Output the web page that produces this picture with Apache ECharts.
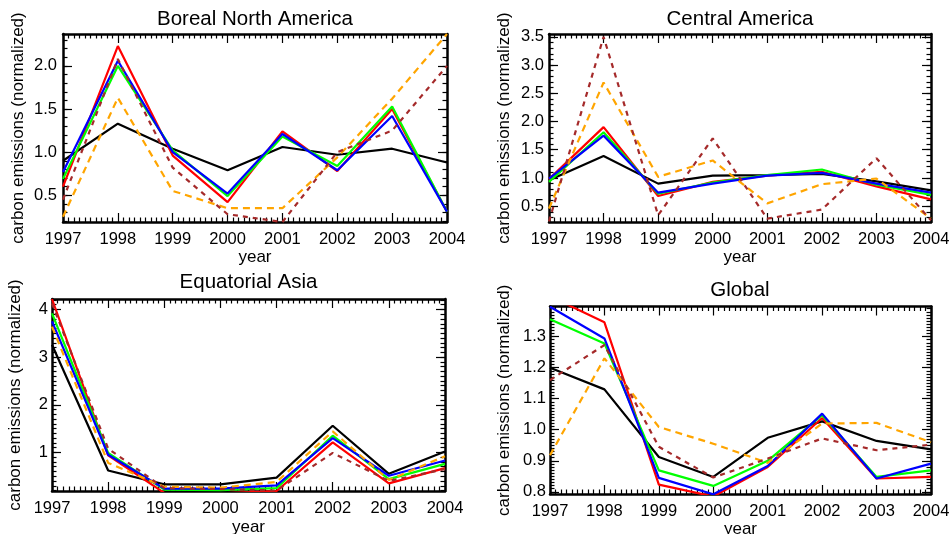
<!DOCTYPE html>
<html>
<head>
<meta charset="utf-8">
<script src="https://cdn.jsdelivr.net/npm/echarts@6/dist/echarts.min.js"></script>
<style>
  html, body { margin: 0; padding: 0; background: #ffffff; }
  #chart { width: 952px; height: 534px; }
</style>
</head>
<body>
<div id="chart"></div>
<script>
// Years on the horizontal axis
const years = [1997, 1998, 1999, 2000, 2001, 2002, 2003, 2004];

// Boreal North America
const borealBlack  = [0.90, 1.33, 1.04, 0.79, 1.06, 0.97, 1.04, 0.88];
const borealRed    = [0.60, 2.23, 0.96, 0.42, 1.24, 0.78, 1.50, 0.31];
const borealGreen  = [0.69, 2.00, 1.02, 0.49, 1.18, 0.84, 1.53, 0.31];
const borealBlue   = [0.77, 2.06, 1.00, 0.52, 1.21, 0.79, 1.42, 0.31];
const borealOrange = [0.25, 1.63, 0.55, 0.35, 0.35, 0.94, 1.62, 2.37];
const borealBrown  = [0.45, 2.08, 0.82, 0.28, 0.19, 1.00, 1.25, 2.00];
const borealTicks  = [0.5, 1.0, 1.5, 2.0];

// Central America
const centralBlack  = [0.96, 1.39, 0.90, 1.04, 1.05, 1.07, 0.94, 0.78];
const centralRed    = [0.98, 1.90, 0.68, 0.93, 1.04, 1.11, 0.85, 0.62];
const centralGreen  = [0.93, 1.81, 0.72, 0.92, 1.05, 1.15, 0.88, 0.70];
const centralBlue   = [0.99, 1.75, 0.74, 0.90, 1.04, 1.09, 0.90, 0.74];
const centralOrange = [0.46, 2.69, 1.02, 1.31, 0.55, 0.89, 0.99, 0.28];
const centralBrown  = [0.23, 3.50, 0.34, 1.70, 0.28, 0.44, 1.35, 0.25];
const centralTicks  = [0.5, 1.0, 1.5, 2.0, 2.5, 3.0, 3.5];

// Equatorial Asia
const asiaBlack  = [3.26, 0.62, 0.33, 0.33, 0.47, 1.56, 0.55, 1.02];
const asiaRed    = [4.22, 0.94, 0.15, 0.14, 0.19, 1.21, 0.35, 0.67];
const asiaGreen  = [3.92, 0.99, 0.22, 0.21, 0.25, 1.35, 0.44, 0.76];
const asiaBlue   = [3.75, 0.95, 0.24, 0.24, 0.31, 1.30, 0.51, 0.83];
const asiaOrange = [3.64, 0.78, 0.28, 0.26, 0.38, 1.44, 0.42, 0.92];
const asiaBrown  = [4.13, 1.08, 0.25, 0.23, 0.20, 0.99, 0.40, 0.65];
const asiaTicks  = [1, 2, 3, 4];

// Global
const globalBlack  = [1.200, 1.130, 0.912, 0.848, 0.974, 1.027, 0.964, 0.937];
const globalRed    = [1.430, 1.346, 0.823, 0.785, 0.880, 1.038, 0.843, 0.848];
const globalGreen  = [1.356, 1.278, 0.869, 0.819, 0.900, 1.047, 0.848, 0.869];
const globalBlue   = [1.396, 1.294, 0.845, 0.792, 0.883, 1.052, 0.843, 0.891];
const globalOrange = [0.918, 1.230, 1.009, 0.955, 0.893, 1.020, 1.022, 0.960];
const globalBrown  = [1.160, 1.273, 0.945, 0.846, 0.907, 0.972, 0.934, 0.952];
const globalTicks  = [0.8, 0.9, 1.0, 1.1, 1.2, 1.3];

const FONT = '"Liberation Sans", Arial, Helvetica, sans-serif';

const lineStyles = [
  { color: '#000000', type: 'solid' },
  { color: '#ff0000', type: 'solid' },
  { color: '#00ff00', type: 'solid' },
  { color: '#0000ff', type: 'solid' },
  { color: '#ffa500', type: [7, 5] },
  { color: '#a52a2a', type: [5, 5] }
];

const panels = [
  { title: 'Boreal North America', rect: [63, 34, 384, 188], titleAt: [255, 20],
    yMin: 0.19, yMax: 2.37, ticks: borealTicks, minorStep: 0.1, digits: 1,
    yGap: 36.5, xGap: 26.5, labelMargin: 6,
    series: [borealBlack, borealRed, borealGreen, borealBlue, borealOrange, borealBrown] },
  { title: 'Central America', rect: [549, 34, 382, 188], titleAt: [740, 20],
    yMin: 0.22, yMax: 3.55, ticks: centralTicks, minorStep: 0.1, digits: 1,
    yGap: 36.5, xGap: 26.5, labelMargin: 5,
    series: [centralBlack, centralRed, centralGreen, centralBlue, centralOrange, centralBrown] },
  { title: 'Equatorial Asia', rect: [52, 299, 393, 192], titleAt: [248.5, 283],
    yMin: 0.19, yMax: 4.22, ticks: asiaTicks, minorStep: 0.1, digits: 0,
    yGap: 28.5, xGap: 27.5, labelMargin: 4,
    series: [asiaBlack, asiaRed, asiaGreen, asiaBlue, asiaOrange, asiaBrown] },
  { title: 'Global', rect: [550, 306.5, 381, 187.5], titleAt: [740, 291],
    yMin: 0.793, yMax: 1.397, ticks: globalTicks, minorStep: 0.01, digits: 1,
    yGap: 37.5, xGap: 26.5, labelMargin: 4,
    series: [globalBlack, globalRed, globalGreen, globalBlue, globalOrange, globalBrown] }
];

// Minor tick positions between the axis limits
function minorValues(lo, hi, step) {
  const out = [];
  const k0 = Math.ceil(lo / step - 1e-9);
  const k1 = Math.floor(hi / step + 1e-9);
  for (let k = k0; k <= k1; k++) out.push(+(k * step).toFixed(6));
  return out;
}

const axisLine = { show: true, lineStyle: { color: '#000000', width: 2.5 } };
const textStyle = { color: '#000000', fontFamily: FONT };
const MAJOR_LEN = 9;
const MINOR_LEN = 4.5;

const option = {
  animation: false,
  backgroundColor: '#ffffff',
  title: [], grid: [], xAxis: [], yAxis: [], series: []
};

panels.forEach((p, i) => {
  option.title.push({
    text: p.title, left: p.titleAt[0], top: p.titleAt[1] - 11.5, textAlign: 'center', padding: 0,
    textStyle: { ...textStyle, fontSize: 20.5, fontWeight: 'normal' }
  });
  option.grid.push({
    left: p.rect[0], top: p.rect[1], width: p.rect[2], height: p.rect[3],
    containLabel: false, outerBoundsMode: 'none'
  });

  const xCommon = {
    gridIndex: i, type: 'value', min: 1997, max: 2004, interval: 1,
    axisLine: axisLine,
    axisTick: { show: true, inside: true, length: MAJOR_LEN, lineStyle: { color: '#000000', width: 1.2 } },
    minorTick: { show: true, splitNumber: 10, length: MINOR_LEN, lineStyle: { color: '#000000', width: 1.2 } },
    splitLine: { show: false }, minorSplitLine: { show: false }
  };
  option.xAxis.push({
    ...xCommon, position: 'bottom',
    axisLabel: { ...textStyle, fontSize: 16.5, margin: 8.5, formatter: v => String(v), showMinLabel: true, showMaxLabel: true },
    name: 'year', nameLocation: 'middle', nameGap: p.xGap,
    nameTextStyle: { ...textStyle, fontSize: 17 }
  });
  option.xAxis.push({ ...xCommon, position: 'top', axisLabel: { show: false } });

  const minors = minorValues(p.yMin, p.yMax, p.minorStep);
  const yBase = {
    gridIndex: i, type: 'value', min: p.yMin, max: p.yMax,
    splitLine: { show: false }, minorTick: { show: false }
  };
  const majorTick = { show: true, inside: true, length: MAJOR_LEN, customValues: p.ticks, lineStyle: { color: '#000000', width: 1.2 } };
  const minorTick = { show: true, inside: true, length: MINOR_LEN, customValues: minors, lineStyle: { color: '#000000', width: 1.2 } };

  option.yAxis.push({
    ...yBase, position: 'left', axisLine: axisLine, axisTick: majorTick,
    axisLabel: { ...textStyle, fontSize: 16.5, margin: p.labelMargin, customValues: p.ticks,
      formatter: v => Number(v).toFixed(p.digits) },
    name: 'carbon emissions (normalized)', nameLocation: 'middle', nameGap: p.yGap, nameRotate: 90,
    nameTextStyle: { ...textStyle, fontSize: 17 }
  });
  option.yAxis.push({ ...yBase, position: 'left', axisLine: { show: false }, axisTick: minorTick, axisLabel: { show: false } });
  option.yAxis.push({ ...yBase, position: 'right', axisLine: axisLine, axisTick: majorTick, axisLabel: { show: false } });
  option.yAxis.push({ ...yBase, position: 'right', axisLine: { show: false }, axisTick: minorTick, axisLabel: { show: false } });

  p.series.forEach((values, s) => {
    option.series.push({
      type: 'line', xAxisIndex: i * 2, yAxisIndex: i * 4,
      data: years.map((yr, k) => [yr, values[k]]),
      symbol: 'none', silent: true, clip: true,
      lineStyle: { color: lineStyles[s].color, width: 2.2, type: lineStyles[s].type },
      z: 2 + s
    });
  });
});

const chart = echarts.init(document.getElementById('chart'), null, { renderer: 'canvas' });
chart.setOption(option);
</script>
</body>
</html>
